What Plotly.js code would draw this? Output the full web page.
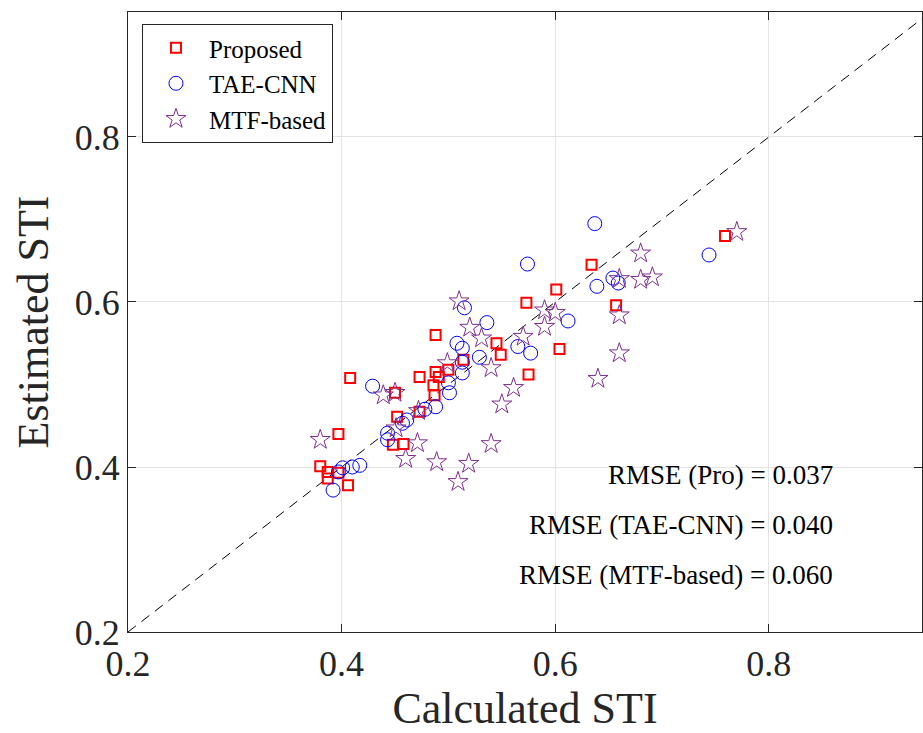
<!DOCTYPE html>
<html>
<head>
<meta charset="utf-8">
<script src="https://cdn.plot.ly/plotly-3.0.1.min.js"></script>
<style>html,body{margin:0;padding:0;background:#fff;}#chart{width:923px;height:733px;}</style>
</head>
<body>
<div id="chart"></div>
<script>
// Proposed
var proX = [0.380,0.387,0.387,0.397,0.397,0.406,0.408,0.450,0.448,0.458,0.452,0.473,0.473,0.488,0.491,0.486,0.487,0.488,0.500,0.514,0.545,0.549,0.573,0.575,0.601,0.604,0.634,0.657,0.759];
var proY = [0.401,0.394,0.386,0.440,0.393,0.378,0.508,0.490,0.427,0.428,0.461,0.467,0.509,0.515,0.509,0.499,0.487,0.560,0.518,0.530,0.550,0.536,0.599,0.512,0.615,0.543,0.645,0.596,0.680];
// TAE-CNN
var taeX = [0.392,0.397,0.401,0.410,0.417,0.429,0.443,0.443,0.457,0.461,0.478,0.488,0.500,0.501,0.508,0.513,0.513,0.513,0.515,0.529,0.536,0.565,0.577,0.612,0.574,0.639,0.654,0.659,0.637,0.744];
var taeY = [0.372,0.394,0.399,0.400,0.402,0.498,0.441,0.433,0.453,0.457,0.470,0.473,0.502,0.490,0.550,0.544,0.527,0.514,0.593,0.533,0.575,0.546,0.538,0.577,0.646,0.619,0.629,0.623,0.695,0.657];
// MTF-based
var mtfX = [0.380,0.439,0.450,0.451,0.460,0.471,0.472,0.489,0.499,0.509,0.510,0.519,0.520,0.531,0.540,0.540,0.550,0.561,0.570,0.590,0.600,0.590,0.640,0.660,0.660,0.660,0.680,0.680,0.691,0.770];
var mtfY = [0.433,0.487,0.490,0.447,0.410,0.429,0.468,0.406,0.526,0.382,0.601,0.404,0.569,0.556,0.520,0.428,0.476,0.496,0.558,0.590,0.587,0.570,0.507,0.628,0.584,0.538,0.659,0.627,0.630,0.685];
var diag = [0.2, 1.0];
var xTicks = [0.2,0.4,0.6,0.8];
var yTicks = [0.2,0.4,0.6,0.8];
var rmseLabels = ["RMSE (Pro) = 0.037","RMSE (TAE-CNN) = 0.040","RMSE (MTF-based) = 0.060"];

var serif = "Liberation Serif, Times New Roman, serif";
var traces = [
  {x: diag, y: diag, mode: "lines", showlegend: false, hoverinfo: "skip",
   line: {color: "#000", width: 1, dash: "10px,7px"}},
  {x: proX, y: proY, mode: "markers", name: "Proposed", type: "scatter",
   marker: {symbol: "square-open", size: 10, color: "#ff0000", line: {width: 2, color: "#ff0000"}}},
  {x: taeX, y: taeY, mode: "markers", name: "TAE-CNN", type: "scatter",
   marker: {symbol: "circle-open", size: 14, color: "#0000ff", line: {width: 1, color: "#0000ff"}}},
  {x: mtfX, y: mtfY, mode: "markers", name: "MTF-based", type: "scatter",
   marker: {symbol: "star-open", size: 15, color: "#7e2f8e", line: {width: 1, color: "#7e2f8e"}}}
];
var ax = {
  showline: true, mirror: "ticks", linecolor: "#262626", linewidth: 1,
  ticks: "inside", ticklen: 8, tickcolor: "#262626",
  showgrid: true, gridcolor: "#e3e3e3", gridwidth: 1, zeroline: false,
  tickfont: {family: serif, size: 36, color: "#262626"}, tickformat: ".1f"
};
var layout = {
  width: 923, height: 733,
  margin: {l: 128, r: 1, t: 12, b: 101},
  paper_bgcolor: "#fff", plot_bgcolor: "#fff",
  font: {family: serif, color: "#262626"},
  xaxis: Object.assign({}, ax, {range: [0.2, 0.9434], tickvals: xTicks,
    title: {text: "Calculated STI", font: {family: serif, size: 44, color: "#262626"}, standoff: 14}}),
  yaxis: Object.assign({}, ax, {range: [0.2, 0.9515], tickvals: yTicks,
    title: {text: "Estimated STI", font: {family: serif, size: 44, color: "#262626"}, standoff: 12}}),
  legend: {x: 0.0176, y: 0.9806, xanchor: "left", yanchor: "top",
    bgcolor: "#fff", bordercolor: "#262626", borderwidth: 1,
    font: {family: serif, size: 25, color: "#000"}, itemwidth: 56, tracegroupgap: 0},
  annotations: rmseLabels.map(function(t, i){
    return {text: t, xref: "paper", yref: "paper", x: 0.89, y: [0.253, 0.1726, 0.0919][i],
      xanchor: "right", yanchor: "middle", showarrow: false,
      font: {family: serif, size: 27, color: "#000"}};
  })
};
Plotly.newPlot("chart", traces, layout, {displayModeBar: false, staticPlot: true});
</script>
</body>
</html>
